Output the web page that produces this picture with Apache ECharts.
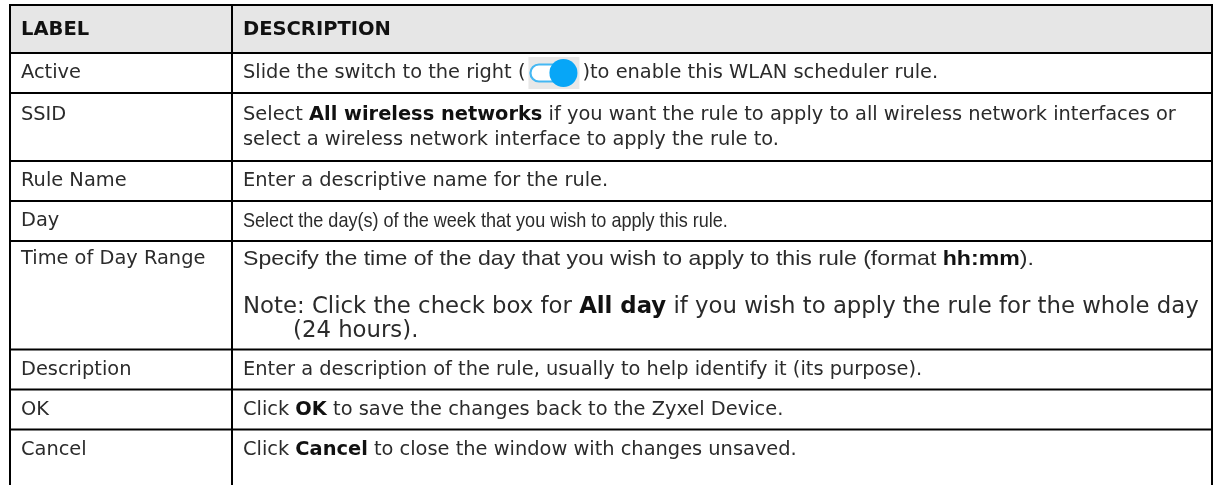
<!DOCTYPE html>
<html><head><meta charset="utf-8">
<script src="https://cdn.jsdelivr.net/npm/echarts@6/dist/echarts.min.js"></script>
<style>html,body{margin:0;padding:0;background:#fff}#c{width:1214px;height:485px}</style>
</head><body><div id="c"></div>
<script>
// ---------- DATA ----------
const columnHeaders = ['LABEL', 'DESCRIPTION'];
const labels = ['Active', 'SSID', 'Rule Name', 'Day', 'Time of Day Range', 'Description', 'OK', 'Cancel'];
const descriptions = [
  [['Slide the switch to the right ([switch])to enable this WLAN scheduler rule.']],
  [['Select **All wireless networks** if you want the rule to apply to all wireless network interfaces or',
    'select a wireless network interface to apply the rule to.']],
  [['Enter a descriptive name for the rule.']],
  [['Select the day(s) of the week that you wish to apply this rule.']],
  [['Specify the time of the day that you wish to apply to this rule (format **hh:mm**).'],
   ['Note: Click the check box for **All day** if you wish to apply the rule for the whole day',
    '(24 hours).']],
  [['Enter a description of the rule, usually to help identify it (its purpose).']],
  [['Click **OK** to save the changes back to the Zyxel Device.']],
  [['Click **Cancel** to close the window with changes unsaved.']]
];

// ---------- LAYOUT / STYLE ----------
const W = 1214, H = 485;
const L = { left: 10, divider: 232, right: 1212, top: 5, headerH: 48, padX: 11, noteIndent: 50,
  first: 19.5, advNormal: 25, advPara: 48, advNote: 24, botSingle: 20.5, botMulti: 23.5, botNote: 17 };
const FONT = '"DejaVu Sans", sans-serif';
const NARROW = '"Liberation Sans", Arial, sans-serif';
const kinds = { '3-0': 'narrowDay', '4-0': 'narrowTime', '4-1': 'note' };
const kindStyle = {
  normal: { size: 19.4, family: FONT, scaleX: 1 },
  narrowDay: { size: 21, family: NARROW, scaleX: 0.86 },
  narrowTime: { size: 21, family: NARROW, scaleX: 1.1 },
  note: { size: 22.8, family: FONT, scaleX: 1 }
};
const TEXT = '#2b2b2b';

// line centres and row bounds computed from the content (line block centred in its row)
const rowTops = [], rowBots = [], lineYs = [];
let yy = L.top;
rowTops.push(yy); yy += L.headerH; rowBots.push(yy); lineYs.push([]);
descriptions.forEach(function (paras, r) {
  const top = yy, rel = [];
  let y = 0, lastKind = 'normal', n = 0;
  paras.forEach(function (para, pi) {
    const kind = kinds[r + '-' + pi] || 'normal';
    para.forEach(function (line, li) {
      if (n > 0) y += (li === 0) ? L.advPara : (kind === 'note' ? L.advNote : L.advNormal);
      rel.push(y); n++; lastKind = kind;
    });
  });
  const h = L.first + y + (lastKind === 'note' ? L.botNote : (n > 1 ? L.botMulti : L.botSingle));
  const start = top + (h - y) / 2;
  rowTops.push(top); rowBots.push(top + h);
  lineYs.push(rel.map(function (v) { return start + v; }));
  yy = top + h;
});
const rowData = rowTops.map(function (t, i) { return [i, t, rowBots[i]]; });

const measureCtx = document.createElement('canvas').getContext('2d');
function toRich(s) { return s.replace(/\*\*(.+?)\*\*/g, '{b|$1}'); }

function textEl(x, y, str, ks) {
  return {
    type: 'text', x: x, y: y, scaleX: ks.scaleX,
    style: {
      text: toRich(str), fontSize: ks.size, fontFamily: ks.family, fill: TEXT,
      align: 'left', verticalAlign: 'middle',
      rich: { b: { fontSize: ks.size, fontFamily: ks.family, fontWeight: 'bold', fill: '#111' } }
    }
  };
}

function renderItem(params, api) {
  const i = api.value(0);
  const p0 = api.coord([L.left, api.value(1)]);
  const p1 = api.coord([L.right, api.value(2)]);
  const xL = p0[0], xR = p1[0], y0 = p0[1], y1 = p1[1];
  const xD = api.coord([L.divider, 0])[0];
  const last = i === rowData.length - 1;
  const yEnd = last ? api.coord([0, H + 20])[1] : y1;
  const ch = [];
  const ln = function (a, b, c, d) { return { type: 'line', shape: { x1: a, y1: b, x2: c, y2: d }, style: { stroke: '#000', lineWidth: 2 } }; };
  if (i === 0) {
    ch.push({ type: 'rect', shape: { x: xL, y: y0, width: xR - xL, height: y1 - y0 }, style: { fill: '#e6e6e6' } });
    ch.push(ln(xL - 1, y0, xR + 1, y0));
  }
  if (!last) ch.push(ln(xL - 1, y1, xR + 1, y1));
  ch.push(ln(xL, y0, xL, yEnd), ln(xD, y0, xD, yEnd), ln(xR, y0, xR, yEnd));

  if (i === 0) {
    const cy = (y0 + y1) / 2 + 1;
    [xL, xD].forEach(function (x, k) {
      ch.push({ type: 'text', x: x + L.padX, y: cy, style: { text: columnHeaders[k], fontSize: 19.5, fontWeight: 'bold', fontFamily: FONT, fill: '#111', verticalAlign: 'middle' } });
    });
  } else {
    const r = i - 1;
    const ys = lineYs[i].map(function (v) { return api.coord([0, v])[1]; });
    ch.push(textEl(xL + L.padX, ys[0], labels[r], kindStyle.normal));
    let n = 0;
    descriptions[r].forEach(function (para, pi) {
      const ks = kindStyle[kinds[r + '-' + pi] || 'normal'];
      para.forEach(function (line, li) {
        const cy = ys[n];
        let x = xD + L.padX;
        if (ks === kindStyle.note && li > 0) x += L.noteIndent;
        if (line.indexOf('[switch]') >= 0) {
          const parts = line.split('[switch]');
          ch.push(textEl(x, cy, parts[0], ks));
          measureCtx.font = ks.size + 'px ' + ks.family;
          const xb = x + measureCtx.measureText(parts[0]).width;
          ch.push({ type: 'rect', shape: { x: xb + 3, y: cy - 16, width: 51, height: 32 }, style: { fill: '#e8e8e8' } });
          ch.push({ type: 'rect', shape: { x: xb + 5, y: cy - 8.5, width: 36, height: 17, r: 8.5 }, style: { fill: '#fff', stroke: '#45b8f3', lineWidth: 2.2 } });
          ch.push({ type: 'circle', shape: { cx: xb + 38, cy: cy, r: 14 }, style: { fill: '#07a6f7' } });
          ch.push(textEl(xb + 57, cy, parts[1], ks));
        } else {
          ch.push(textEl(x, cy, line, ks));
        }
        n++;
      });
    });
  }
  return { type: 'group', children: ch };
}

const chart = echarts.init(document.getElementById('c'), null, { renderer: 'canvas' });
chart.setOption({
  backgroundColor: '#fff',
  animation: false,
  grid: { left: 0, right: 0, top: 0, bottom: 0 },
  xAxis: { type: 'value', min: 0, max: W, show: false },
  yAxis: { type: 'value', min: 0, max: H, inverse: true, show: false },
  series: [{ type: 'custom', renderItem: renderItem, data: rowData, clip: false, silent: true }]
});
</script></body></html>
